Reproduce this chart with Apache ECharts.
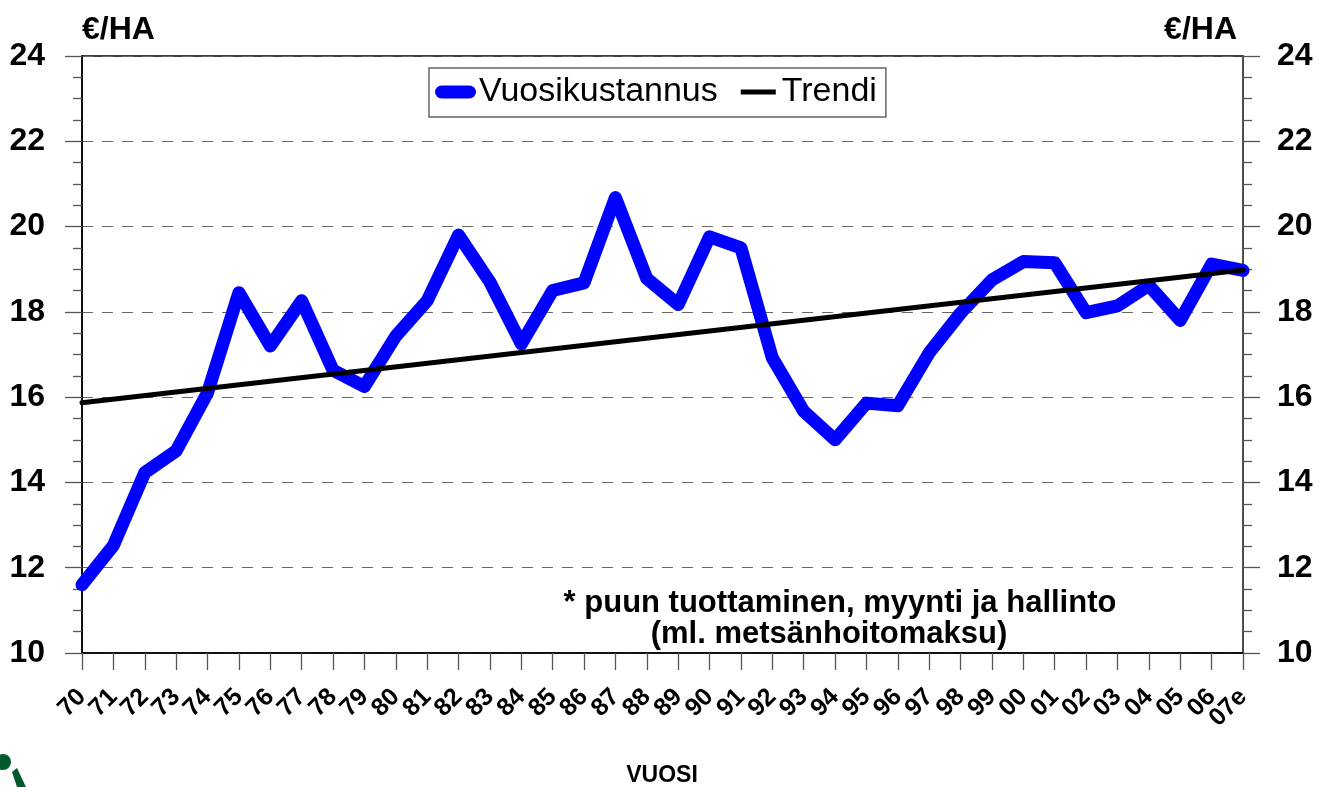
<!DOCTYPE html>
<html>
<head>
<meta charset="utf-8">
<script src="https://cdn.jsdelivr.net/npm/echarts@6/dist/echarts.min.js"></script>
<style>
html,body{margin:0;padding:0;background:#fff;}
#chart{width:1331px;height:787px;}
</style>
</head>
<body>
<div id="chart"></div>
<script>
// ---- data ----
const years = ['70','71','72','73','74','75','76','77','78','79','80','81','82','83','84','85','86','87','88','89','90','91','92','93','94','95','96','97','98','99','00','01','02','03','04','05','06','07e'];
const vuosikustannus = [11.6, 12.52, 14.23, 14.74, 16.1, 18.45, 17.2, 18.26, 16.63, 16.25, 17.43, 18.26, 19.8, 18.7, 17.25, 18.5, 18.68, 20.68, 18.78, 18.17, 19.76, 19.5, 16.92, 15.67, 15.0, 15.86, 15.8, 17.04, 17.97, 18.75, 19.18, 19.15, 17.98, 18.14, 18.62, 17.8, 19.12, 18.97];
const trendYears = ['70', '07e'];
const trendValues = [15.87, 18.98];
const yTicks = [10, 12, 14, 16, 18, 20, 22, 24];

const FONT = '"Liberation Sans", Arial, sans-serif';
const chart = echarts.init(document.getElementById('chart'));

const yAxisBase = {
  type: 'value',
  min: yTicks[0],
  max: yTicks[yTicks.length - 1],
  interval: yTicks[1] - yTicks[0],
  axisLine: { show: true, lineStyle: { color: '#000', width: 1.5 } },
  axisTick: { show: true, inside: false, length: 17, lineStyle: { color: '#555', width: 1.3 } },
  minorTick: { show: true, splitNumber: 4, length: 9, lineStyle: { color: '#555', width: 1.3 } },
  axisLabel: { color: '#000', fontFamily: FONT, fontWeight: 'bold', fontSize: 32 }
};

chart.setOption({
  animation: false,
  backgroundColor: '#fff',
  grid: {
    left: 82, right: 88, top: 56, bottom: 134,
    show: true, borderColor: '#000', borderWidth: 1.5, backgroundColor: 'transparent'
  },
  legend: {
    left: 429, top: 68,
    orient: 'horizontal',
    padding: [6, 9, 7, 6],
    itemWidth: 41, itemHeight: 13, itemGap: 20,
    borderColor: '#666', borderWidth: 1.5,
    backgroundColor: '#fff',
    textStyle: { fontFamily: FONT, fontSize: 34, color: '#000', padding: [0, 0, 0, -2], lineHeight: 36 },
    data: [
      { name: 'Vuosikustannus', icon: 'path://M6.5,0 L34.5,0 A6.5,6.5 0 0 1 34.5,13 L6.5,13 A6.5,6.5 0 0 1 6.5,0 Z', itemStyle: { color: '#0000ff' } },
      { name: 'Trendi', icon: 'path://M0,0 M41,13 M3,4 L38,4 L38,9 L3,9 Z', itemStyle: { color: '#000' } }
    ]
  },
  xAxis: {
    type: 'category',
    data: years,
    boundaryGap: false,
    axisLine: { show: true, lineStyle: { color: '#000', width: 1.5 } },
    axisTick: { show: true, interval: 0, length: 17, lineStyle: { color: '#555', width: 1.3 } },
    axisLabel: {
      interval: 0, rotate: 45, margin: 40,
      color: '#000', fontFamily: FONT, fontWeight: 'bold', fontSize: 25
    },
    splitLine: { show: false }
  },
  yAxis: [
    Object.assign({}, yAxisBase, {
      position: 'left',
      axisLabel: Object.assign({}, yAxisBase.axisLabel, { margin: 37 }),
      splitLine: { show: true, lineStyle: { color: '#666', width: 1.2, type: [11, 9] } }
    }),
    Object.assign({}, yAxisBase, {
      position: 'right',
      axisLine: { show: true, lineStyle: { color: '#555', width: 1.5 } },
      axisLabel: Object.assign({}, yAxisBase.axisLabel, { margin: 34 }),
      splitLine: { show: false }
    })
  ],
  series: [
    {
      name: 'Vuosikustannus',
      type: 'line',
      data: vuosikustannus,
      showSymbol: false,
      symbol: 'none',
      lineStyle: { color: '#0000ff', width: 13, cap: 'round', join: 'round' },
      itemStyle: { color: '#0000ff' },
      z: 3
    },
    {
      name: 'Trendi',
      type: 'line',
      data: trendYears.map((y, i) => [y, trendValues[i]]),
      showSymbol: false,
      symbol: 'none',
      lineStyle: { color: '#000', width: 5, cap: 'round' },
      itemStyle: { color: '#000' },
      z: 4
    }
  ],
  graphic: [
    { type: 'text', left: 82, top: 14, style: { text: '€/HA', font: 'bold 32px ' + FONT, fill: '#000' } },
    { type: 'text', right: 94, top: 14, style: { text: '€/HA', font: 'bold 32px ' + FONT, fill: '#000' } },
    { type: 'text', x: 840, y: 603, style: { text: '* puun tuottaminen, myynti ja hallinto', font: 'bold 31px ' + FONT, fill: '#000', align: 'center', verticalAlign: 'middle' } },
    { type: 'text', x: 829, y: 634, style: { text: '(ml. metsänhoitomaksu)', font: 'bold 31px ' + FONT, fill: '#000', align: 'center', verticalAlign: 'middle' } },
    { type: 'text', x: 662, y: 776, style: { text: 'VUOSI', font: 'bold 23px ' + FONT, fill: '#000', align: 'center', verticalAlign: 'middle' } },
    { type: 'circle', shape: { cx: 3, cy: 762, r: 8 }, style: { fill: '#00592c' } },
    { type: 'polygon', shape: { points: [[12, 772], [17, 768], [26, 787], [17, 787]] }, style: { fill: '#00592c' } }
  ]
});
</script>
</body>
</html>
